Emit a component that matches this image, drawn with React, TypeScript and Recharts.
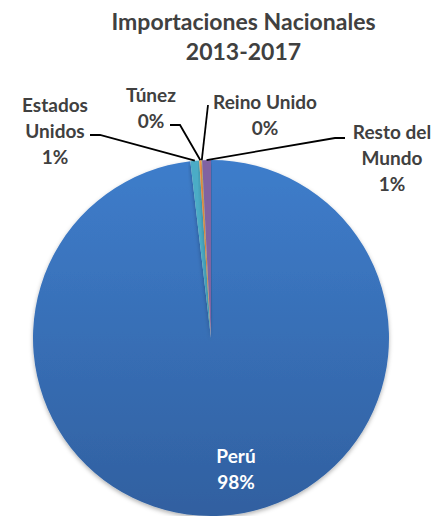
import React from "react";
import { PieChart, Pie, Cell } from "recharts";

const countries = ["Perú", "Estados Unidos", "Túnez", "Reino Unido", "Resto del Mundo"];
const shares = [98.15, 0.8, 0.2, 0.05, 0.8];
const percentLabels = ["98%", "1%", "0%", "0%", "1%"];
const labelLines = [["Perú"], ["Estados", "Unidos"], ["Túnez"], ["Reino Unido"], ["Resto del", "Mundo"]];

const data = countries.map((name, i) => ({ name, value: shares[i] }));

const fills = ["url(#peruGrad)", "#4BACC6", "#F79646", "#9BBB59", "#8064A2"];

// label layout: text centre offsets from pie centre, leader points (relative to pie centre)
const layout = [
  { tx: 25, ty: 117, inside: true, leader: [] as number[][] },
  { tx: -156, ty: -234, inside: false, leader: [[-121, -203], [-111, -203]] },
  { tx: -60, ty: -244, inside: false, leader: [[-41, -213], [-31, -213]] },
  { tx: 54, ty: -237, inside: false, leader: [[-3, -233]] },
  { tx: 181, ty: -207, inside: false, leader: [[134, -200], [124, -200]] },
];

const RAD = Math.PI / 180;
const LH = 26;
const FONT = "Lato, 'Open Sans', sans-serif";

const renderLabel = (props: any) => {
  const { cx, cy, midAngle, outerRadius, index } = props;
  const L = layout[index];
  const lines = [...labelLines[index], percentLabels[index]];
  const x = cx + L.tx;
  const y0 = cy + L.ty;
  const color = L.inside ? "#FFFFFF" : "#404040";
  let leader: React.ReactNode = null;
  if (!L.inside) {
    const ex = cx + outerRadius * Math.cos(-midAngle * RAD);
    const ey = cy + outerRadius * Math.sin(-midAngle * RAD);
    const ordered = [...L.leader.map((p) => [cx + p[0], cy + p[1]]), [ex, ey]];
    leader = (
      <polyline
        points={ordered.map((p) => p.join(",")).join(" ")}
        fill="none"
        stroke="#000"
        strokeWidth={1.8}
      />
    );
  }
  return (
    <g key={`lbl-${index}`}>
      {leader}
      {lines.map((t, k) => (
        <text
          key={k}
          x={x}
          y={y0 + k * LH}
          textAnchor="middle"
          dominantBaseline="central"
          fill={color}
          fontFamily={FONT}
          fontWeight={700}
          fontSize={19}
        >
          {t}
        </text>
      ))}
    </g>
  );
};

export default function App() {
  return (
    <div style={{ position: "absolute", left: 0, top: 0, width: 437, height: 516, background: "#fff" }}>
      <svg width={0} height={0} style={{ position: "absolute" }}>
        <defs>
          <linearGradient id="peruGrad" x1="0" y1="0" x2="0" y2="1">
            <stop offset="0%" stopColor="#3E7DCB" />
            <stop offset="100%" stopColor="#3160A0" />
          </linearGradient>
          <filter id="pieShadow" x="-10%" y="-10%" width="120%" height="125%">
            <feDropShadow dx="0" dy="2" stdDeviation="2" floodColor="#000" floodOpacity="0.3" />
          </filter>
        </defs>
      </svg>
      <div
        style={{
          position: "absolute",
          left: 0,
          top: 6,
          width: 487,
          textAlign: "center",
          fontFamily: FONT,
          fontWeight: 700,
          fontSize: 23,
          lineHeight: "30px",
          color: "#404040",
        }}
      >
        Importaciones Nacionales
        <br />
        2013-2017
      </div>
      <PieChart width={437} height={516} margin={{ top: 0, right: 0, bottom: 0, left: 0 }}>
        <Pie
          data={data}
          dataKey="value"
          nameKey="name"
          cx={211}
          cy={338}
          outerRadius={178}
          startAngle={90}
          endAngle={-270}
          stroke="none"
          label={renderLabel}
          labelLine={false}
          isAnimationActive={false}
          style={{ filter: "url(#pieShadow)" }}
        >
          {data.map((d, i) => (
            <Cell key={d.name} fill={fills[i]} />
          ))}
        </Pie>
      </PieChart>
    </div>
  );
}
